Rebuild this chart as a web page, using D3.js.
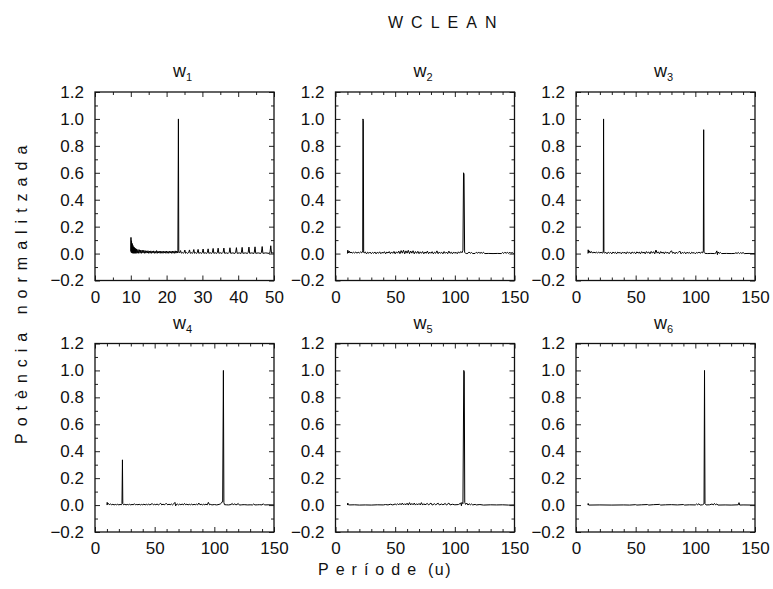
<!DOCTYPE html>
<html>
<head>
<meta charset="utf-8">
<script src="https://cdn.jsdelivr.net/npm/d3@7/dist/d3.min.js"></script>
<style>
  html, body { margin: 0; padding: 0; background: #fff; }
  svg { display: block; }
  text { font-family: "Liberation Sans", Arial, Helvetica, sans-serif; fill: #111; }
</style>
</head>
<body>
<svg id="chart" width="773" height="589"></svg>
<script>
// ---------------- DATA ----------------
const chartTitle = "WCLEAN";
const xAxisWord = "Període";
const xAxisUnit = "(u)";
const yAxisLabel = "Potència normalitzada";
const panelNames = ["1", "2", "3", "4", "5", "6"];
const xDomainShort = [0, 50];
const xDomainLong = [0, 150];
const yDomain = [-0.2, 1.2];
const xTicksShort = [0, 10, 20, 30, 40, 50];
const xMinorShort = [5, 15, 25, 35, 45];
const xTicksLong = [0, 50, 100, 150];
const xMinorLong = [10, 20, 30, 40, 60, 70, 80, 90, 110, 120, 130, 140];
const yTicks = [-0.2, 0.0, 0.2, 0.4, 0.6, 0.8, 1.0, 1.2];
const yMinor = [-0.1, 0.1, 0.3, 0.5, 0.7, 0.9, 1.1];

// [period, normalised power]
const w1 = [
[10.0,0.02],[10.05,0.12],[10.1,0.01],[10.2,0.095],[10.3,0.004],[10.4,0.075],[10.5,0.003],[10.6,0.06],[10.7,0.002],[10.8,0.05],
[10.9,0.003],[11.0,0.045],[11.1,0.002],[11.2,0.04],[11.3,0.003],[11.4,0.036],[11.5,0.002],[11.6,0.033],[11.8,0.003],[12.0,0.03],
[12.2,0.002],[12.4,0.028],[12.6,0.003],[12.8,0.026],[13.0,0.002],[13.2,0.025],[13.4,0.004],[13.6,0.024],[13.8,0.002],[14.0,0.022],
[14.2,0.003],[14.4,0.02],[14.6,0.004],[14.8,0.021],[15.0,0.002],[15.2,0.019],[15.4,0.003],[15.6,0.02],[15.8,0.002],[16.0,0.018],
[16.2,0.004],[16.4,0.02],[16.6,0.002],[16.8,0.017],[17.0,0.003],[17.2,0.022],[17.4,0.002],[17.6,0.018],[17.8,0.004],[18.0,0.017],
[18.2,0.002],[18.4,0.019],[18.6,0.003],[18.8,0.016],[19.0,0.002],[19.2,0.018],[19.4,0.004],[19.6,0.017],[19.8,0.002],[20.0,0.019],
[20.2,0.003],[20.4,0.016],[20.6,0.002],[20.8,0.018],[21.0,0.004],[21.2,0.017],[21.4,0.002],[21.6,0.019],[21.8,0.003],[22.0,0.017],
[22.2,0.002],[22.4,0.02],[22.6,0.003],[22.8,0.018],[23.0,0.004],[23.15,0.02],[23.3,1.0],[23.4,0.01],
[23.5,0.004],[23.7,0.01],[23.9,0.022],[24.1,0.003],[24.4,0.008],[24.7,0.002],[24.9,0.01],[25.1,0.026],[25.3,0.002],[25.6,0.008],
[25.9,0.001],[26.2,0.01],[26.4,0.027],[26.6,0.002],[26.9,0.007],[27.2,0.001],[27.4,0.01],[27.6,0.03],[27.8,0.002],[28.1,0.007],
[28.4,0.001],[28.6,0.01],[28.8,0.031],[29.0,0.002],[29.4,0.007],[29.8,0.001],[30.0,0.01],[30.2,0.034],[30.4,0.002],[30.8,0.006],
[31.2,0.001],[31.4,0.01],[31.6,0.035],[31.8,0.002],[32.2,0.006],[32.6,0.001],[32.8,0.01],[33.0,0.038],[33.2,0.002],[33.6,0.006],
[34.0,0.001],[34.2,0.01],[34.4,0.04],[34.6,0.002],[35.0,0.006],[35.5,0.001],[35.8,0.01],[36.0,0.041],[36.2,0.002],[36.7,0.005],
[37.2,0.001],[37.5,0.01],[37.7,0.043],[37.9,0.002],[38.5,0.005],[39.1,0.001],[39.3,0.01],[39.5,0.044],[39.7,0.002],[40.3,0.005],
[40.8,0.001],[40.9,0.01],[41.1,0.046],[41.3,0.002],[42.0,0.005],[42.6,0.001],[42.8,0.01],[43.0,0.048],[43.2,0.002],[43.8,0.005],
[44.4,0.001],[44.5,0.01],[44.7,0.05],[44.9,0.002],[45.6,0.005],[46.3,0.001],[46.5,0.01],[46.7,0.052],[46.9,0.002],[47.7,0.005],
[48.7,0.001],[48.9,0.012],[49.1,0.058],[49.3,0.002],[49.7,0.006],[50.0,0.002]
];

const w2 = [
[10,0.0],[10.3,0.025],[10.8,0.005],[11.5,0.018],[12.2,0.004],[13,0.012],[14,0.003],[15,0.01],[16,0.004],[17,0.011],
[18,0.003],[19,0.01],[20,0.004],[21,0.012],[22,0.005],[22.8,0.02],[23.0,1.0],[23.3,0.99],[23.6,0.01],
[24,0.004],[25,0.012],[26,-0.002],[27,0.01],[28,0.002],[29,0.011],[30,-0.001],[31,0.009],[32,0.002],[33,0.012],
[34,-0.002],[35,0.01],[36,0.002],[37,0.013],[38,-0.001],[39,0.01],[40,0.003],[41,0.014],[42,-0.002],[43,0.011],
[44,0.004],[45,0.015],[46,-0.001],[47,0.012],[48,0.002],[49,0.016],[50,-0.002],[51,0.013],[52,0.003],[53,0.018],
[54,-0.001],[55,0.022],[56,0.003],[57,0.025],[58,-0.002],[59,0.02],[60,0.003],[61,0.024],[62,-0.001],[63,0.019],
[64,0.003],[65,0.021],[66,-0.002],[67,0.015],[68,0.002],[69,0.017],[70,-0.001],[71,0.013],[72,0.002],[73,0.015],
[74,-0.002],[75,0.012],[76,0.002],[77,0.018],[78,-0.001],[79,0.011],[80,0.002],[81,0.014],[82,-0.002],[83,0.01],
[84,0.002],[85,0.02],[86,-0.001],[87,0.012],[88,0.002],[89,0.01],[90,-0.002],[91,0.015],[92,0.002],[93,0.011],
[94,-0.001],[95,0.018],[96,0.002],[97,0.01],[98,-0.002],[99,0.012],[100,0.002],[101,0.01],[102,-0.001],[103,0.013],
[104,0.003],[105,0.015],[106,0.006],[106.8,0.025],[107.3,0.6],[107.7,0.59],[108.2,0.01],[109,0.002],[110,0.0],
[111,0.002],[112,0.012],[113,0.002],[114,0.008],[115,0.0],[117,0.001],[118,0.01],[119,0.002],[120,0.012],[121,0.001],
[122,0.009],[123,0.002],[124,0.01],[125,0.0],[128,0.001],[132,0.0],[136,0.001],[139,0.0],[140,0.008],[141,0.001],
[142,0.01],[143,0.002],[144,0.009],[145,0.001],[146,0.011],[147,0.002],[148,0.008],[149,0.001],[150,0.0]
];

const w3 = [
[10,0.0],[10.2,0.028],[10.7,0.005],[11.4,0.02],[12.1,0.004],[13,0.015],[14,0.003],[15,0.012],[16,0.004],[17,0.011],
[18,0.003],[19,0.012],[20,0.004],[21,0.01],[22,0.003],[22.5,0.005],[22.9,0.02],[23.1,1.0],[23.4,0.01],
[24,0.003],[25,0.01],[26,-0.002],[27,0.011],[28,0.003],[29,0.009],[30,-0.002],[31,0.012],[32,0.003],[33,0.01],
[34,-0.002],[35,0.011],[36,0.004],[37,0.009],[38,-0.002],[39,0.012],[40,0.003],[41,0.01],[42,-0.002],[43,0.013],
[44,0.003],[45,0.01],[46,-0.002],[47,0.012],[48,0.004],[49,0.01],[50,-0.002],[51,0.013],[52,0.003],[53,0.011],
[54,-0.002],[55,0.014],[56,0.003],[57,0.012],[58,-0.002],[59,0.015],[60,0.004],[61,0.012],[62,-0.002],[63,0.016],
[64,0.003],[65,0.014],[66,-0.002],[67,0.026],[68,0.003],[69,0.013],[70,-0.002],[71,0.015],[72,0.003],[73,0.011],
[74,-0.002],[75,0.013],[76,0.003],[77,0.01],[78,-0.002],[79,0.012],[80,0.021],[81,0.002],[82,0.01],[83,-0.002],
[84,0.011],[85,0.002],[86,0.01],[87,0.019],[88,-0.002],[89,0.009],[90,0.003],[91,0.011],[92,-0.002],[93,0.01],
[94,0.003],[95,0.009],[96,-0.002],[97,0.01],[98,0.003],[99,0.008],[100,-0.002],[101,0.009],[102,0.003],[103,0.012],
[104,0.002],[105,0.01],[106,0.005],[106.7,0.02],[107.0,0.92],[107.3,0.01],[108,0.002],[110,0.0],[113,0.001],
[116,0.0],[117,0.002],[118,0.02],[118.5,-0.008],[119,0.012],[120,0.002],[121,0.008],[122,0.0],[126,0.001],[130,0.0],
[133,0.001],[134,0.006],[135,0.001],[136,0.008],[137,0.0],[138,0.007],[139,0.001],[140,0.008],[141,0.0],[145,0.001],[150,0.0]
];

const w4 = [
[10,0.0],[10.2,0.02],[10.6,0.004],[11.2,0.012],[12,0.003],[13,0.008],[14,0.002],[15,0.006],[16,0.001],[17,0.005],
[18,0.002],[19,0.006],[20,0.001],[21,0.005],[22,0.002],[22.6,0.01],[23.0,0.336],[23.3,0.01],[24,0.002],
[25,0.006],[26,0.001],[27,0.005],[28,0.002],[29,0.006],[30,0.001],[31,0.005],[32,0.002],[33,0.01],[34,0.001],
[35,0.005],[36,0.002],[37,0.006],[38,0.001],[39,0.005],[40,0.002],[41,0.007],[42,0.001],[43,0.006],[44,0.002],
[45,0.007],[46,0.001],[47,0.006],[48,0.011],[49,0.001],[50,0.006],[51,0.002],[52,0.008],[53,0.001],[54,0.006],
[55,0.013],[56,0.001],[57,0.007],[58,0.002],[59,0.008],[60,0.011],[61,0.001],[62,0.007],[63,0.002],[64,0.008],
[65,0.001],[66,0.009],[67,0.02],[67.6,-0.006],[68,0.003],[69,0.008],[70,0.001],[71,0.007],[72,0.002],[73,0.008],
[74,0.001],[75,0.012],[76,0.002],[77,0.007],[78,0.001],[79,0.006],[80,0.002],[81,0.007],[82,0.001],[83,0.006],
[84,0.002],[85,0.007],[86,0.001],[87,0.015],[88,0.002],[89,0.006],[90,0.001],[91,0.006],[92,0.002],[93,0.007],
[94,0.001],[95,0.02],[96,0.002],[97,0.005],[98,0.001],[100,0.004],[102,0.001],[104,0.005],[105,0.008],[106,0.015],
[107,0.03],[107.6,1.0],[108.0,0.02],[108.5,0.003],[110,0.002],[112,0.001],[114,0.004],[115,0.012],[116,0.0],
[117,0.01],[118,0.002],[119,0.004],[120,0.012],[121,0.0],[123,0.002],[125,0.003],[128,0.001],[130,0.002],[132,0.001],
[133,0.008],[134,0.001],[136,0.002],[138,0.003],[140,0.001],[141,0.01],[142,0.001],[145,0.002],[150,0.001]
];

const w5 = [
[10,0.0],[10.3,0.015],[10.8,0.002],[12,0.001],[16,0.002],[20,0.0],[25,0.001],[30,0.0],[35,0.002],[40,0.001],
[42,0.004],[44,0.001],[46,0.006],[48,0.001],[50,0.008],[51,0.002],[52,0.01],[53,0.001],[54,0.012],[55,0.002],
[56,0.015],[57,0.001],[58,0.01],[59,0.002],[60,0.014],[61,0.0],[62,0.018],[63,0.001],[64,0.012],[65,0.002],
[66,0.015],[67,0.0],[68,0.01],[69,0.002],[70,0.012],[71,0.001],[72,0.018],[73,0.0],[74,0.01],[75,0.002],
[77,0.012],[78,0.001],[80,0.015],[81,0.0],[83,0.01],[84,0.002],[86,0.014],[87,0.001],[89,0.008],[90,0.002],
[92,0.012],[93,0.0],[95,0.015],[96,0.001],[98,0.006],[100,0.002],[103,0.004],[105,0.015],[105.5,-0.005],[106,0.02],
[106.8,0.01],[107.5,1.0],[107.9,0.99],[108.3,0.02],[109,0.005],[110,0.015],[111,0.0],[112,0.01],[113,0.002],[114,0.008],
[115,0.001],[117,0.005],[118,0.001],[121,0.004],[124,0.0],[130,0.002],[135,0.001],[140,0.002],[145,0.0],[150,0.001]
];

const w6 = [
[10,0.0],[10.2,0.012],[10.6,0.0],[20,0.001],[30,0.0],[40,0.001],[45,0.0],[50,0.003],[51,0.0],[55,0.002],
[60,0.004],[61,0.0],[65,0.003],[70,0.005],[71,0.0],[75,0.002],[80,0.003],[85,0.001],[90,0.004],[91,0.0],
[95,0.002],[100,0.001],[101,0.008],[102,0.002],[103,0.01],[104,0.0],[106,0.002],[107.3,0.01],[107.7,1.0],[108.1,0.01],
[109,0.001],[112,0.002],[114,0.008],[115,0.001],[116,0.012],[117,0.002],[118,0.008],[119,0.0],[125,0.001],[130,0.0],
[136,0.002],[136.6,0.018],[137.2,0.0],[140,0.001],[150,0.0]
];

// ---------------- LAYOUT ----------------
const series = [w1, w2, w3, w4, w5, w6];
const colLeft = [95, 335.5, 576];
const rowTop = [92, 343.5];
const pw = 179, ph = 188.5;
const fontTick = 17;

const svg = d3.select("#chart");

svg.append("text")
  .attr("x", 388).attr("y", 28)
  .attr("font-size", 16).attr("letter-spacing", "8px")
  .text(chartTitle);

const xl = svg.append("text").attr("y", 575).attr("font-size", 16);
xl.append("tspan").attr("x", 318).attr("letter-spacing", "7px").text(xAxisWord);
xl.append("tspan").attr("x", 428).attr("letter-spacing", "1.5px").text(xAxisUnit);

svg.append("text")
  .attr("transform", "translate(27,444) rotate(-90)")
  .attr("font-size", 16).attr("letter-spacing", "7px")
  .text(yAxisLabel);

const fmtY = d3.format(".1f");

series.forEach((data, i) => {
  const col = i % 3, row = Math.floor(i / 3);
  const left = colLeft[col], top = rowTop[row];
  const isShort = i === 0;
  const x = d3.scaleLinear().domain(isShort ? xDomainShort : xDomainLong).range([0, pw]);
  const y = d3.scaleLinear().domain(yDomain).range([ph, 0]);
  const majorX = isShort ? xTicksShort : xTicksLong;
  const minorX = isShort ? xMinorShort : xMinorLong;

  const g = svg.append("g").attr("transform", `translate(${left},${top})`);

  const clipId = "clip" + i;
  g.append("clipPath").attr("id", clipId)
    .append("rect").attr("x", 0).attr("y", 0).attr("width", pw).attr("height", ph);

  // data line
  const line = d3.line().x(d => x(d[0])).y(d => y(d[1]));
  g.append("path").datum(data)
    .attr("clip-path", `url(#${clipId})`)
    .attr("fill", "none").attr("stroke", "#000").attr("stroke-width", 1)
    .attr("stroke-linejoin", "miter")
    .attr("d", line);

  const styleAxis = sel => {
    sel.select(".domain").remove();
    sel.selectAll(".tick line").attr("stroke", "#222").attr("stroke-width", 1);
    sel.selectAll("text").attr("font-size", fontTick)
      .attr("font-family", '"Liberation Sans", Arial, sans-serif').attr("fill", "#111");
  };

  g.append("g").attr("transform", `translate(0,${ph})`)
    .call(d3.axisBottom(x).tickValues(majorX).tickSize(-5).tickPadding(10).tickFormat(d3.format("d")))
    .call(styleAxis);
  g.append("g").attr("transform", `translate(0,${ph})`)
    .call(d3.axisBottom(x).tickValues(minorX).tickSize(-3).tickFormat(""))
    .call(styleAxis);
  g.append("g")
    .call(d3.axisTop(x).tickValues(majorX).tickSize(-5).tickFormat(""))
    .call(styleAxis);
  g.append("g")
    .call(d3.axisTop(x).tickValues(minorX).tickSize(-3).tickFormat(""))
    .call(styleAxis);

  g.append("g")
    .call(d3.axisLeft(y).tickValues(yTicks).tickSize(-5).tickPadding(11).tickFormat(fmtY))
    .call(styleAxis);
  g.append("g")
    .call(d3.axisLeft(y).tickValues(yMinor).tickSize(-3).tickFormat(""))
    .call(styleAxis);
  g.append("g").attr("transform", `translate(${pw},0)`)
    .call(d3.axisRight(y).tickValues(yTicks).tickSize(-5).tickFormat(""))
    .call(styleAxis);
  g.append("g").attr("transform", `translate(${pw},0)`)
    .call(d3.axisRight(y).tickValues(yMinor).tickSize(-3).tickFormat(""))
    .call(styleAxis);

  // frame
  g.append("rect").attr("x", 0).attr("y", 0).attr("width", pw).attr("height", ph)
    .attr("fill", "none").attr("stroke", "#111").attr("stroke-width", 1.3);

  // panel title w_i
  const t = g.append("text").attr("x", pw / 2 - 2).attr("y", -15)
    .attr("text-anchor", "middle").attr("font-size", 18);
  t.append("tspan").text("w");
  t.append("tspan").attr("font-size", 11).attr("dy", 4).text(panelNames[i]);
});
</script>
</body>
</html>
